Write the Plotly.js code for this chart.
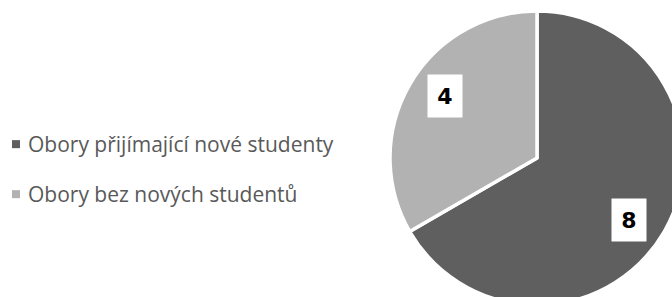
<!DOCTYPE html>
<html><head><meta charset="utf-8">
<script src="https://cdn.plot.ly/plotly-3.0.1.min.js"></script>
<style>html,body{margin:0;padding:0;overflow:hidden;background:#fff;width:672px;height:297px}</style>
</head><body><div id="chart"></div>
<script>
// ---- data ----
const categories = ["Obory přijímající nové studenty", "Obory bez nových studentů"];
const values = [8, 4];
const sliceColors = ["#5f5f5f", "#b2b2b2"];

// ---- layout constants ----
const W = 690, H = 310;           // paper slightly larger than the window: pie is cut on the right/bottom
const cx = 537, cy = 158, r = 147; // pie centre and radius in px
const labelRadius = 0.755, labelAngleShift = 4;
const rowGap = 50;                 // legend row spacing in px
const itemShiftX = -12;
const symbolScale = 0.67, symbolShift = 8;

const total = values.reduce((a, b) => a + b, 0);
let cum = 0;
const annotations = values.map(v => {
  const mid = (cum + v / 2) / total * 360 + labelAngleShift;
  cum += v;
  const rad = mid * Math.PI / 180;
  const px = cx + labelRadius * r * Math.sin(rad);
  const py = cy - labelRadius * r * Math.cos(rad);
  return {
    x: px / W, y: 1 - py / H, xref: 'paper', yref: 'paper',
    xanchor: 'center', yanchor: 'middle', showarrow: false,
    text: String(v), bgcolor: '#ffffff', width: 32, height: 40,
    font: {family: 'DejaVu Sans', size: 22, color: '#000000', weight: 'bold'}
  };
});

const trace = {
  type: 'pie', labels: categories, values: values, sort: false,
  direction: 'clockwise', rotation: 0,
  marker: {colors: sliceColors, line: {color: '#ffffff', width: 3.5}},
  textinfo: 'none', hoverinfo: 'none',
  domain: {x: [(cx - r) / W, (cx + r) / W], y: [1 - (cy + r) / H, 1 - (cy - r) / H]}
};

const layout = {
  width: W, height: H, margin: {l: 0, r: 0, t: 0, b: 0, pad: 0},
  paper_bgcolor: '#ffffff', showlegend: true,
  legend: {x: 0, y: 1 - 124 / H, xanchor: 'left', yanchor: 'top',
           bgcolor: 'rgba(0,0,0,0)', borderwidth: 0,
           font: {family: 'Open Sans', size: 21, color: '#595959'}},
  annotations: annotations
};

const gd = document.getElementById('chart');
Plotly.newPlot(gd, [trace], layout, {staticPlot: true, displayModeBar: false}).then(() => {
  gd.querySelectorAll('.legend [clip-path]').forEach(el => el.removeAttribute('clip-path'));
  const items = Array.from(gd.querySelectorAll('.legend .traces'));
  const pos = items.map(g => {
    const m = /translate\(\s*([-\d.]+)[ ,]+([-\d.]+)\s*\)/.exec(g.getAttribute('transform') || '');
    return m ? [parseFloat(m[1]), parseFloat(m[2])] : [0, 0];
  });
  items.forEach((g, i) => {
    g.setAttribute('transform', `translate(${pos[i][0] + itemShiftX},${pos[0][1] + i * rowGap})`);
  });
  gd.querySelectorAll('.legend path.legendpie').forEach(p => {
    p.setAttribute('transform', `translate(${20 + symbolShift},0) scale(${symbolScale})`);
    p.style.strokeWidth = '0';
  });
});
</script>
</body></html>
